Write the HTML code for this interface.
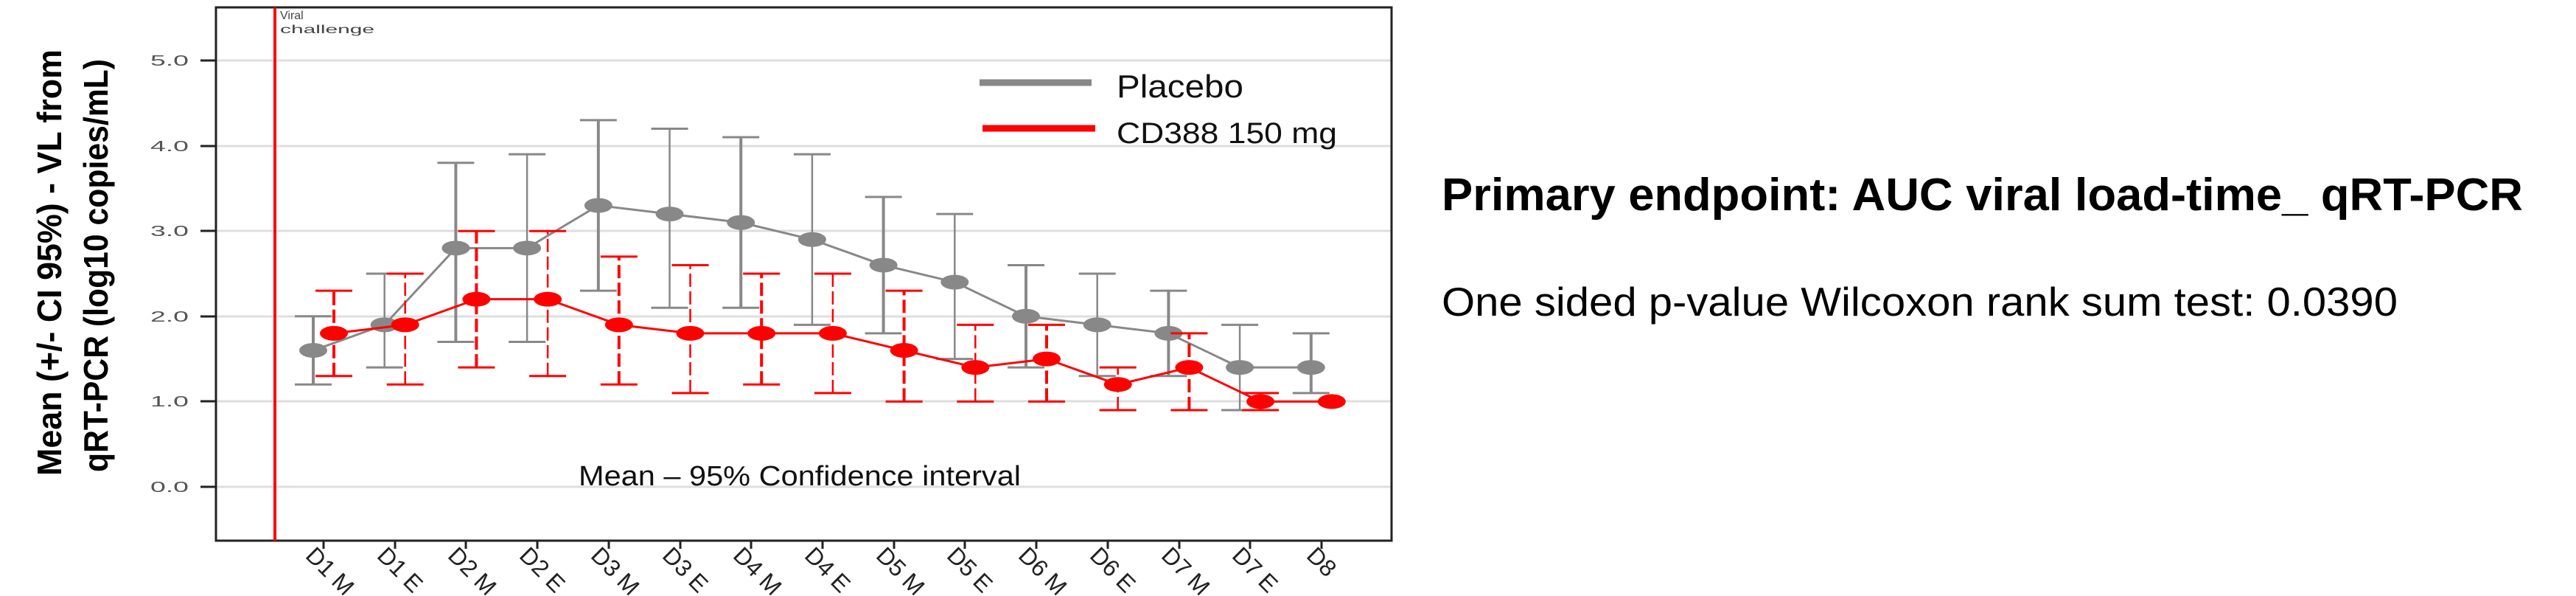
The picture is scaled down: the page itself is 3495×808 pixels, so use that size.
<!DOCTYPE html>
<html><head><meta charset="utf-8"><style>html,body{margin:0;padding:0;background:#fff}svg{display:block}</style></head><body>
<svg width="3495" height="808" viewBox="0 0 3495 808" xmlns="http://www.w3.org/2000/svg" font-family="Liberation Sans, sans-serif">
<rect width="3495" height="808" fill="#fff"/>
<g stroke="#dedede" stroke-width="3">
<line x1="293" x2="1888" y1="82" y2="82"/><line x1="293" x2="1888" y1="198" y2="198"/><line x1="293" x2="1888" y1="313" y2="313"/><line x1="293" x2="1888" y1="429" y2="429"/><line x1="293" x2="1888" y1="544" y2="544"/><line x1="293" x2="1888" y1="660" y2="660"/>
</g>
<g stroke="#222" stroke-width="3">
<line x1="272" x2="293" y1="82" y2="82"/><line x1="272" x2="293" y1="198" y2="198"/><line x1="272" x2="293" y1="313" y2="313"/><line x1="272" x2="293" y1="429" y2="429"/><line x1="272" x2="293" y1="544" y2="544"/><line x1="272" x2="293" y1="660" y2="660"/>
</g>
<g font-size="20" fill="#555">
<text x="204" y="89" textLength="52" lengthAdjust="spacingAndGlyphs">5.0</text>
<text x="204" y="205" textLength="52" lengthAdjust="spacingAndGlyphs">4.0</text>
<text x="204" y="320" textLength="52" lengthAdjust="spacingAndGlyphs">3.0</text>
<text x="204" y="436" textLength="52" lengthAdjust="spacingAndGlyphs">2.0</text>
<text x="204" y="551" textLength="52" lengthAdjust="spacingAndGlyphs">1.0</text>
<text x="204" y="667" textLength="52" lengthAdjust="spacingAndGlyphs">0.0</text>
</g>
<rect x="293" y="10" width="1595" height="723" fill="none" stroke="#222" stroke-width="3"/>
<line x1="373" x2="373" y1="10" y2="733" stroke="#f00" stroke-width="4"/>
<text x="380" y="26" font-size="16" fill="#444">Viral</text>
<text x="380" y="45" font-size="16" fill="#444" textLength="128" lengthAdjust="spacingAndGlyphs">challenge</text>
<g stroke="#222" stroke-width="3">
<line x1="439" x2="439" y1="733" y2="744"/><line x1="536" x2="536" y1="733" y2="744"/><line x1="632" x2="632" y1="733" y2="744"/><line x1="729" x2="729" y1="733" y2="744"/><line x1="826" x2="826" y1="733" y2="744"/><line x1="923" x2="923" y1="733" y2="744"/><line x1="1019" x2="1019" y1="733" y2="744"/><line x1="1116" x2="1116" y1="733" y2="744"/><line x1="1213" x2="1213" y1="733" y2="744"/><line x1="1309" x2="1309" y1="733" y2="744"/><line x1="1406" x2="1406" y1="733" y2="744"/><line x1="1503" x2="1503" y1="733" y2="744"/><line x1="1600" x2="1600" y1="733" y2="744"/><line x1="1696" x2="1696" y1="733" y2="744"/><line x1="1793" x2="1793" y1="733" y2="744"/>
</g>
<g font-size="32" fill="#222">
<text transform="translate(413,755) rotate(45)">D1 M</text>
<text transform="translate(510,755) rotate(45)">D1 E</text>
<text transform="translate(606,755) rotate(45)">D2 M</text>
<text transform="translate(703,755) rotate(45)">D2 E</text>
<text transform="translate(800,755) rotate(45)">D3 M</text>
<text transform="translate(897,755) rotate(45)">D3 E</text>
<text transform="translate(993,755) rotate(45)">D4 M</text>
<text transform="translate(1090,755) rotate(45)">D4 E</text>
<text transform="translate(1187,755) rotate(45)">D5 M</text>
<text transform="translate(1283,755) rotate(45)">D5 E</text>
<text transform="translate(1380,755) rotate(45)">D6 M</text>
<text transform="translate(1477,755) rotate(45)">D6 E</text>
<text transform="translate(1574,755) rotate(45)">D7 M</text>
<text transform="translate(1670,755) rotate(45)">D7 E</text>
<text transform="translate(1771,755) rotate(45)">D8</text>
</g>
<g id="series"></g>
<line x1="1329" x2="1481" y1="112" y2="112" stroke="#888" stroke-width="9"/>
<line x1="1333" x2="1486" y1="174" y2="174" stroke="#f00" stroke-width="9"/>
<text x="1515" y="132" font-size="44" fill="#111" textLength="172" lengthAdjust="spacingAndGlyphs">Placebo</text>
<text x="1515" y="194" font-size="40" fill="#111" textLength="299" lengthAdjust="spacingAndGlyphs">CD388 150 mg</text>
<text x="785" y="658" font-size="38" fill="#111" textLength="600" lengthAdjust="spacingAndGlyphs">Mean – 95% Confidence interval</text>
<text transform="translate(83,645) rotate(-90)" font-size="46" font-weight="bold" fill="#000" textLength="578" lengthAdjust="spacingAndGlyphs">Mean (+/- CI 95%) - VL from</text>
<text transform="translate(146,640) rotate(-90)" font-size="46" font-weight="bold" fill="#000" textLength="560" lengthAdjust="spacingAndGlyphs">qRT-PCR (log10 copies/mL)</text>
<text x="1956" y="285" font-size="62" font-weight="bold" fill="#000" textLength="1467" lengthAdjust="spacingAndGlyphs">Primary endpoint: AUC viral load-time_ qRT-PCR</text>
<text x="1956" y="428" font-size="55" fill="#000" textLength="1297" lengthAdjust="spacingAndGlyphs">One sided p-value Wilcoxon rank sum test: 0.0390</text>
<script>
(function(){
var ns="http://www.w3.org/2000/svg",g=document.getElementById("series");
function Y(v){return 660-115.6*v;}
function X(i){return 439+96.7*i;}
var gm=[1.6,1.9,2.8,2.8,3.3,3.2,3.1,2.9,2.6,2.4,2.0,1.9,1.8,1.4,1.4];
var gc=[[1.2,2.0],[1.4,2.5],[1.7,3.8],[1.7,3.9],[2.3,4.3],[2.1,4.2],[2.1,4.1],[1.9,3.9],[1.8,3.4],[1.5,3.2],[1.4,2.6],[1.3,2.5],[1.3,2.3],[0.9,1.9],[1.1,1.8]];
var rm=[1.8,1.9,2.2,2.2,1.9,1.8,1.8,1.8,1.6,1.4,1.5,1.2,1.4,1.0,1.0];
var rc=[[1.3,2.3],[1.2,2.5],[1.4,3.0],[1.3,3.0],[1.2,2.7],[1.1,2.6],[1.2,2.5],[1.1,2.5],[1.0,2.3],[1.0,1.9],[1.0,1.9],[0.9,1.4],[0.9,1.8],[0.9,1.1],null];
function el(t,a){var e=document.createElementNS(ns,t);for(var k in a)e.setAttribute(k,a[k]);g.appendChild(e);return e;}
function series(m,c,off,col,dash,lw){
 var pts=m.map(function(v,i){return (X(i)+off)+","+Y(v);}).join(" ");
 el("polyline",{points:pts,fill:"none",stroke:col,"stroke-width":3});
 m.forEach(function(v,i){var x=X(i)+off;if(c[i]){
  var a={x1:x,x2:x,y1:Y(c[i][0]),y2:Y(c[i][1]),stroke:col,"stroke-width":lw[i%2]};if(dash)a["stroke-dasharray"]=dash;el("line",a);
  el("line",{x1:x-25,x2:x+25,y1:Y(c[i][0]),y2:Y(c[i][0]),stroke:col,"stroke-width":3});
  el("line",{x1:x-25,x2:x+25,y1:Y(c[i][1]),y2:Y(c[i][1]),stroke:col,"stroke-width":3});}
 });
 m.forEach(function(v,i){el("ellipse",{cx:X(i)+off,cy:Y(v),rx:19,ry:10,fill:col});});
}
series(gm,gc,-14,"#888",null,[4,2.5]);
series(rm,rc,14,"#f00","18 6",[4,2.5]);
})();
</script>
</svg>
</body></html>
